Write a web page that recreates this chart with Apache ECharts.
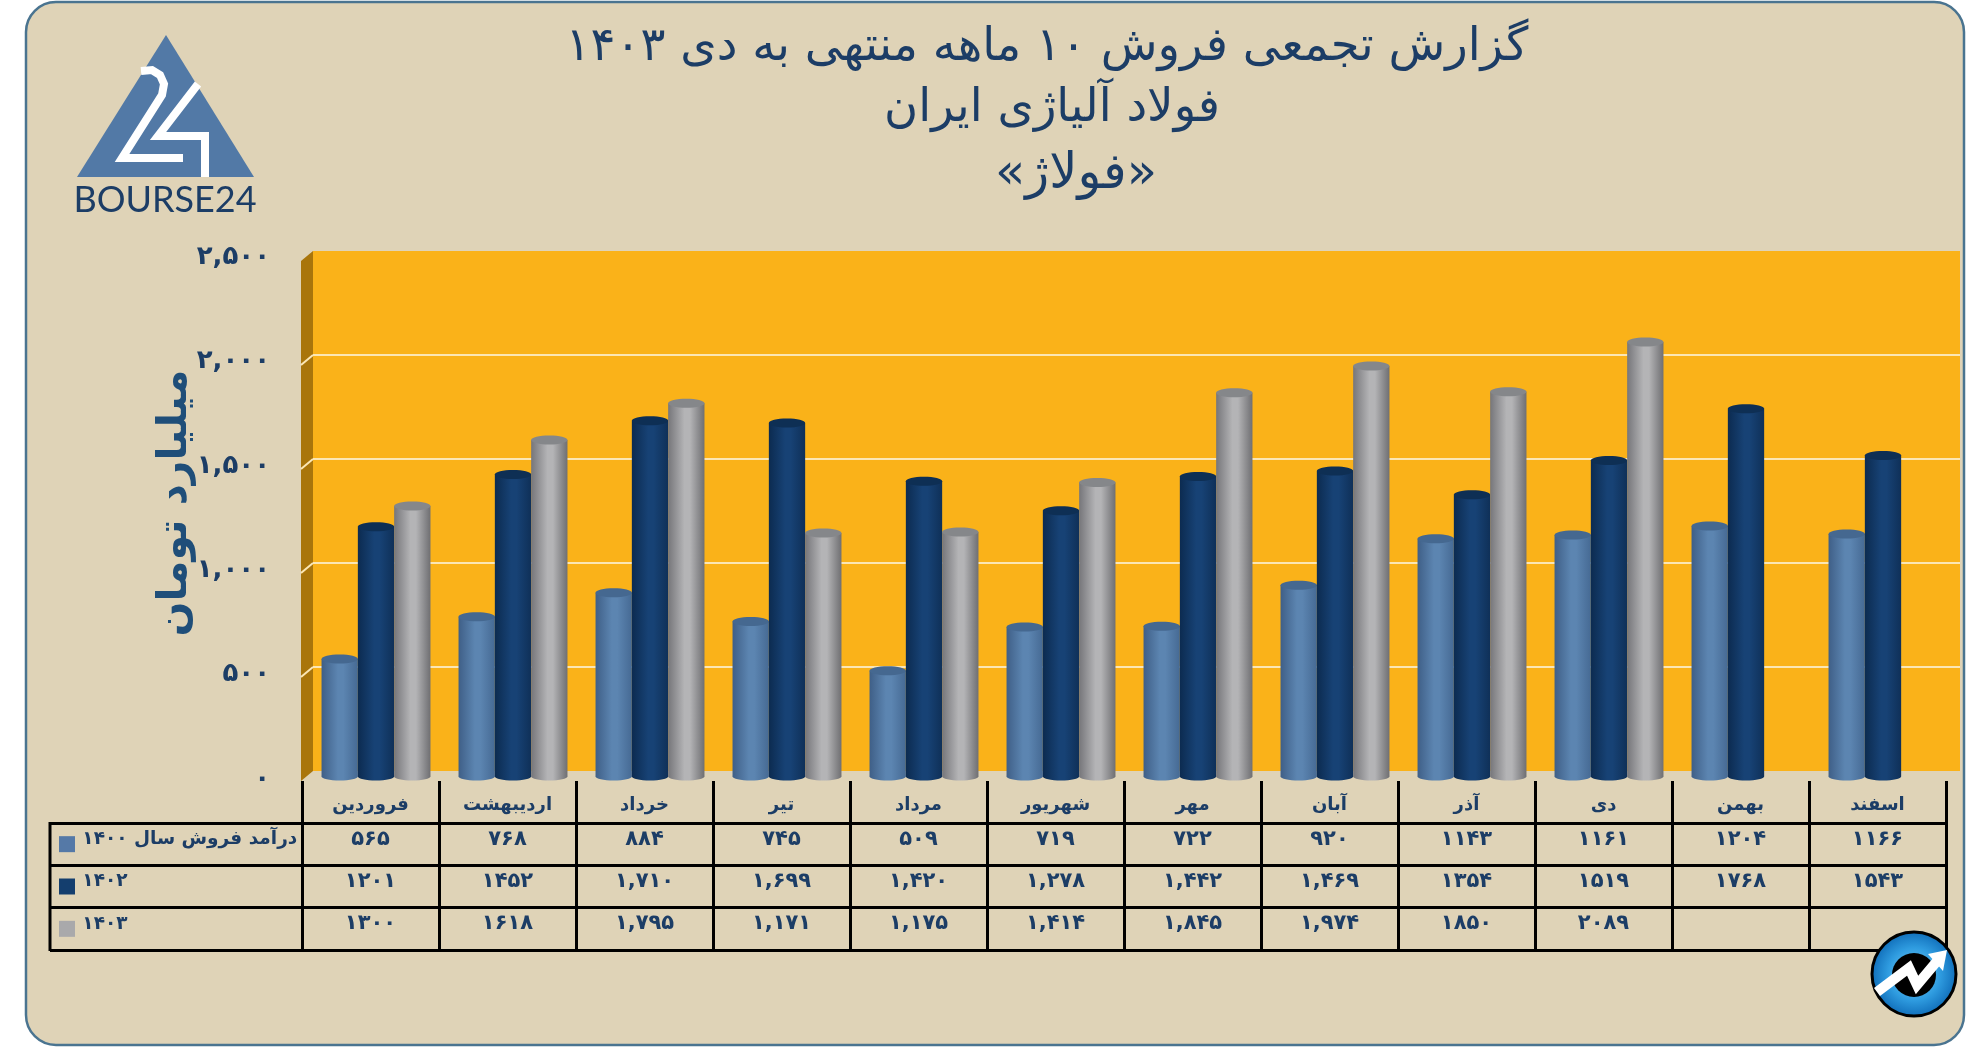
<!DOCTYPE html>
<html lang="fa">
<head>
<meta charset="utf-8">
<title>فولاژ</title>
<script src="https://cdn.jsdelivr.net/npm/echarts@6/dist/echarts.min.js"></script>
<style>
    html, body { margin: 0; background: #fff; }
    #main { width: 1986px; height: 1047px; }
</style>
</head>
<body>
<div id="main" dir="rtl"></div>
<script>
const months = ['فروردین', 'اردیبهشت', 'خرداد', 'تیر', 'مرداد', 'شهریور', 'مهر', 'آبان', 'آذر', 'دی', 'بهمن', 'اسفند']
const rowNames = ['درآمد فروش سال ۱۴۰۰', '۱۴۰۲', '۱۴۰۳']
const yTickLabels = ['۰', '۵۰۰', '۱,۰۰۰', '۱,۵۰۰', '۲,۰۰۰', '۲,۵۰۰']

const sales1400 = [565, 768, 884, 745, 509, 719, 722, 920, 1143, 1161, 1204, 1166]
const sales1402 = [1201, 1452, 1710, 1699, 1420, 1278, 1442, 1469, 1354, 1519, 1768, 1543]
const sales1403 = [1300, 1618, 1795, 1171, 1175, 1414, 1845, 1974, 1850, 2089, null, null]

const cells1400 = ['۵۶۵', '۷۶۸', '۸۸۴', '۷۴۵', '۵۰۹', '۷۱۹', '۷۲۲', '۹۲۰', '۱۱۴۳', '۱۱۶۱', '۱۲۰۴', '۱۱۶۶']
const cells1402 = ['۱۲۰۱', '۱۴۵۲', '۱,۷۱۰', '۱,۶۹۹', '۱,۴۲۰', '۱,۲۷۸', '۱,۴۴۲', '۱,۴۶۹', '۱۳۵۴', '۱۵۱۹', '۱۷۶۸', '۱۵۴۳']
const cells1403 = ['۱۳۰۰', '۱۶۱۸', '۱,۷۹۵', '۱,۱۷۱', '۱,۱۷۵', '۱,۴۱۴', '۱,۸۴۵', '۱,۹۷۴', '۱۸۵۰', '۲۰۸۹', '', '']

const FONT = '"DejaVu Sans", "Noto Sans", sans-serif'
const NAVY = '#1c3d66'

const swatchColors = ['#5579a7', '#143e6e', '#a9a9ab']
const cylinderColors = [
    { edge: '#3f5f87', mid: '#5c85b1', right: '#466a94', top: '#456890' },
    { edge: '#0c2b50', mid: '#174275', right: '#0f3058', top: '#0e2f54' },
    { edge: '#76767a', mid: '#b4b4b6', right: '#6f6f72', top: '#85878a' }
]

// 3 cylinders fill about 80% of a month band
function cylinderItem(k) {
    return function (params, api) {
        const val = api.value(1)
        if (isNaN(val)) return
        const top = api.coord([api.value(0), val])
        const base = api.coord([api.value(0), 0])
        const band = api.size([1, 0])[0]
        const w = band * 0.265
        const cx = top[0] + (k - 1) * w
        const c = cylinderColors[k]
        const fill = new echarts.graphic.LinearGradient(0, 0, 1, 0, [
            { offset: 0, color: c.edge },
            { offset: 0.45, color: c.mid },
            { offset: 0.6, color: c.mid },
            { offset: 1, color: c.right }
        ])
        return {
            type: 'group',
            children: [
                { type: 'ellipse', shape: { cx: cx, cy: base[1], rx: w / 2, ry: 4 }, style: { fill: fill } },
                { type: 'rect', shape: { x: cx - w / 2, y: top[1], width: w, height: base[1] - top[1] }, style: { fill: fill } },
                { type: 'ellipse', shape: { cx: cx, cy: top[1], rx: w / 2, ry: 4.5 }, style: { fill: c.top } }
            ]
        }
    }
}

const cellRows = [cells1400, cells1402, cells1403]
const cellData = []
cellRows.forEach((row, r) => {
    row.forEach((text, m) => cellData.push([m, r, text]))
})

function cellItem(params, api) {
    const p = api.coord([api.value(0), api.value(1)])
    return {
        type: 'text',
        style: {
            x: p[0],
            y: p[1] - 5,
            text: cellData[params.dataIndex][2],
            fill: NAVY,
            font: 'bold 21px ' + FONT,
            align: 'center',
            verticalAlign: 'middle'
        }
    }
}

const wallTicks = [500, 1000, 1500, 2000]
const wallStep = 520 / 2500
const decoration = [
    { type: 'rect', z: -10, shape: { x: 26, y: 2, width: 1938, height: 1043, r: 30 }, style: { fill: '#dfd3b7', stroke: '#4a7490', lineWidth: 2.5 } },
    { type: 'polygon', z: -5, shape: { points: [[313, 251], [313, 771], [301, 781], [301, 261]] }, style: { fill: '#a9750b' } },
    { type: 'polygon', z: 20, shape: { points: [[166, 35], [254, 177], [77, 177]] }, style: { fill: '#5279a6' } },
    { type: 'polyline', z: 21, shape: { points: [[141, 71], [152, 70], [160, 75], [164, 84], [162, 95], [122, 158], [183, 158]] }, style: { stroke: '#fff', lineWidth: 8, fill: null } },
    { type: 'polyline', z: 21, shape: { points: [[198, 84], [158, 136], [205, 136], [205, 177]] }, style: { stroke: '#fff', lineWidth: 8, fill: null } },
    { type: 'text', z: 21, style: { x: 165, y: 200, text: 'BOURSE24', fill: NAVY, font: '36px Lato, ' + FONT, align: 'center', verticalAlign: 'middle' } },
    { type: 'line', z: 5, shape: { x1: 50, y1: 822, x2: 50, y2: 951 }, style: { stroke: '#000', lineWidth: 3 } },
    {
        type: 'circle', z: 30, shape: { cx: 1914, cy: 974, r: 42 },
        style: {
            stroke: '#000', lineWidth: 3,
            fill: new echarts.graphic.RadialGradient(0.5, 0.5, 0.5, [
                { offset: 0, color: '#7fd0f5' },
                { offset: 0.6, color: '#2f9ce0' },
                { offset: 1, color: '#0f6cb8' }
            ])
        }
    },
    { type: 'circle', z: 31, shape: { cx: 1914, cy: 975, r: 22 }, style: { fill: '#000' } },
    { type: 'polyline', z: 32, shape: { points: [[1877, 992], [1909, 968], [1917, 985], [1938, 960]] }, style: { stroke: '#fff', lineWidth: 10, fill: null } },
    { type: 'polygon', z: 32, shape: { points: [[1928, 954], [1947, 950], [1943, 971]] }, style: { fill: '#fff' } }
]
wallTicks.forEach(t => {
    const y = 771 - t * wallStep
    decoration.push({ type: 'line', z: -4, shape: { x1: 313, y1: y, x2: 301, y2: y + 10 }, style: { stroke: '#fbe6b4', lineWidth: 2 } })
})

const option = {
    backgroundColor: '#fff',
    animation: false,
    title: [
        { text: 'گزارش تجمعی فروش ۱۰ ماهه منتهی به دی ۱۴۰۳', left: 1042, top: 43, textAlign: 'center', textVerticalAlign: 'middle', textStyle: { fontFamily: FONT, fontWeight: 'normal', fontSize: 46.5, color: NAVY } },
        { text: 'فولاد آلیاژی ایران', left: 1047, top: 104, textAlign: 'center', textVerticalAlign: 'middle', textStyle: { fontFamily: FONT, fontWeight: 'normal', fontSize: 46.5, color: NAVY } },
        { text: '«فولاژ»', left: 1071, top: 170, textAlign: 'center', textVerticalAlign: 'middle', textStyle: { fontFamily: FONT, fontWeight: 'normal', fontSize: 49.5, color: NAVY } }
    ],
    grid: [
        { left: 313, top: 251, width: 1647, height: 520, show: true, backgroundColor: '#fab219', borderWidth: 0 },
        { left: 307.5, top: 256.5, width: 1644, height: 520 },
        { left: 303, top: 257, width: 1644, height: 522 },
        { left: 302, top: 823, width: 1644, height: 127 }
    ],
    xAxis: [
        { gridIndex: 0, type: 'category', data: months, show: false },
        { gridIndex: 1, type: 'category', data: months, show: false },
        { gridIndex: 2, type: 'category', data: months, show: false },
        {
            gridIndex: 3,
            type: 'category',
            data: months,
            position: 'top',
            axisLine: { show: true, lineStyle: { color: '#000', width: 3 } },
            axisTick: { show: true, length: 42, lineStyle: { color: '#000', width: 3 } },
            axisLabel: { interval: 0, margin: 9, color: NAVY, fontFamily: FONT, fontWeight: 'bold', fontSize: 18 },
            splitLine: { show: true, interval: 0, lineStyle: { color: '#000', width: 3 } }
        }
    ],
    yAxis: [
        {
            gridIndex: 0,
            type: 'value',
            min: 0,
            max: 2500,
            interval: 500,
            axisLine: { show: false },
            axisTick: { show: false },
            axisLabel: { show: false },
            splitLine: { showMinLine: false, showMaxLine: false, lineStyle: { color: '#fbe6b4', width: 2 } }
        },
        { gridIndex: 1, type: 'value', min: 0, max: 2500, interval: 500, show: false },
        {
            gridIndex: 2,
            type: 'value',
            min: 0,
            max: 2500,
            interval: 500,
            name: 'میلیارد تومان',
            nameLocation: 'middle',
            nameRotate: 90,
            nameGap: 107,
            nameMoveOverlap: false,
            nameTextStyle: { fontFamily: FONT, fontWeight: 'bold', fontSize: 41, color: '#1f4e79', padding: [0, 0, 0, 30] },
            axisLine: { show: false },
            axisTick: { show: false },
            splitLine: { show: false },
            axisLabel: {
                margin: 33,
                color: NAVY,
                fontFamily: FONT,
                fontWeight: 'bold',
                fontSize: 26,
                formatter: v => yTickLabels[v / 500]
            }
        },
        {
            gridIndex: 3,
            type: 'category',
            data: rowNames,
            inverse: true,
            axisLine: { show: true, lineStyle: { color: '#000', width: 3 } },
            axisTick: { show: true, length: 252, lineStyle: { color: '#000', width: 3 } },
            splitLine: { show: true, lineStyle: { color: '#000', width: 3 } },
            axisLabel: {
                interval: 0,
                align: 'left',
                margin: 243,
                formatter: (v, i) => '{s' + i + '|} {t|' + v + '}',
                rich: {
                    s0: { width: 16, height: 16, backgroundColor: swatchColors[0] },
                    s1: { width: 16, height: 16, backgroundColor: swatchColors[1] },
                    s2: { width: 16, height: 16, backgroundColor: swatchColors[2] },
                    t: { color: NAVY, fontFamily: FONT, fontWeight: 'bold', fontSize: 18.5, padding: [0, 0, 10, 4] }
                }
            }
        }
    ],
    graphic: { elements: decoration },
    series: [
        { type: 'custom', name: '۱۴۰۰', xAxisIndex: 1, yAxisIndex: 1, z: 3, clip: false, renderItem: cylinderItem(0), encode: { x: 0, y: 1 }, data: sales1400.map((v, i) => [i, v]) },
        { type: 'custom', name: '۱۴۰۲', xAxisIndex: 1, yAxisIndex: 1, z: 4, clip: false, renderItem: cylinderItem(1), encode: { x: 0, y: 1 }, data: sales1402.map((v, i) => [i, v]) },
        { type: 'custom', name: '۱۴۰۳', xAxisIndex: 1, yAxisIndex: 1, z: 5, clip: false, renderItem: cylinderItem(2), encode: { x: 0, y: 1 }, data: sales1403.map((v, i) => [i, v]) },
        { type: 'custom', name: 'table', xAxisIndex: 3, yAxisIndex: 3, z: 6, renderItem: cellItem, encode: { x: 0, y: 1 }, data: cellData }
    ]
}

const myChart = echarts.init(document.getElementById('main'))
myChart.setOption(option)
window.addEventListener('resize', () => {
    myChart.resize()
})
</script>
</body>
</html>
